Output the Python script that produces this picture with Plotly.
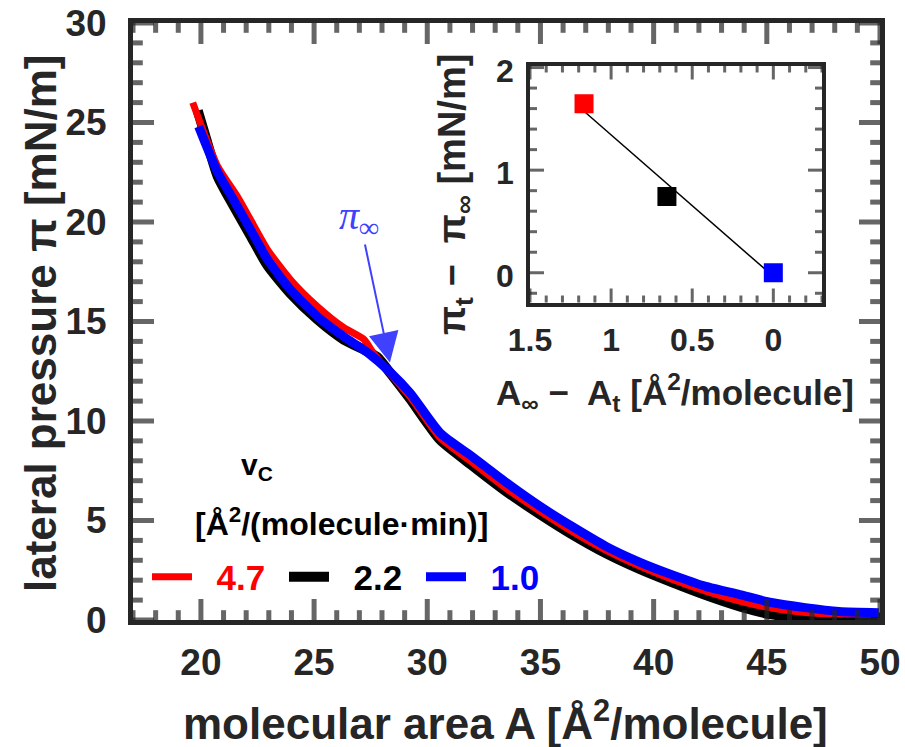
import plotly.graph_objects as go

# ---------------- data ----------------
red_A = [19.64, 20.13, 20.74, 21.6, 22.2, 22.95, 23.96, 25.15, 26.3, 27.2, 27.6, 28.2,
         29.25, 30.57, 32.0, 33.5, 35.0, 36.4, 37.9, 39.4, 40.8, 42.3, 43.8, 45.2, 46.7, 48.2, 49.6]
red_pi = [26.0, 24.5, 22.8, 21.3, 20.1, 18.6, 17.1, 15.75, 14.7, 14.1, 13.45, 12.6,
          11.2, 9.15, 7.9, 6.6, 5.45, 4.45, 3.5, 2.7, 2.05, 1.45, 0.95, 0.6, 0.38, 0.3, 0.3]

black_A = [19.86, 20.2, 20.74, 21.45, 22.2, 22.95, 23.96, 25.15, 26.3, 27.35, 27.8, 28.37,
           29.25, 30.57, 32.0, 33.5, 35.0, 36.4, 37.9, 39.4, 40.8, 42.3, 43.8, 45.2, 46.7, 48.2, 50.0]
black_pi = [25.6, 24.3, 22.3, 20.8, 19.3, 17.8, 16.4, 15.1, 14.1, 13.5, 13.2, 12.4,
            11.1, 9.05, 7.75, 6.45, 5.3, 4.3, 3.35, 2.55, 1.9, 1.25, 0.68, 0.28, 0.15, 0.12, 0.12]

blue_A = [19.9, 20.74, 21.45, 22.2, 22.95, 23.96, 25.15, 26.3, 27.35, 28.37, 29.25, 30.57,
          32.0, 33.5, 35.0, 36.4, 37.9, 39.4, 40.8, 42.3, 43.8, 45.2, 46.7, 48.2, 49.95]
blue_pi = [24.8, 22.5, 21.1, 19.6, 18.1, 16.6, 15.25, 14.25, 13.45, 12.45, 11.4, 9.4,
           8.2, 6.9, 5.7, 4.7, 3.7, 2.9, 2.28, 1.69, 1.28, 0.88, 0.62, 0.43, 0.37]

speed_labels = ["4.7", "2.2", "1.0"]
series_colors = ["#ff0000", "#000000", "#0000ff"]

# inset data
inset_dA = [1.167, 0.656, 0.0]
inset_dpi = [1.646, 0.744, 0.0]
fit_dA = [1.167, 0.0]
fit_dpi = [1.574, -0.036]

# axis ranges, tick positions and labels
main_x_range = [17, 50]
main_y_range = [0, 30]
inset_x_range = [1.5, -0.3]
inset_y_range = [-0.29, 2.02]
main_x_major = [20, 25, 30, 35, 40, 45, 50]
main_x_major_text = ["20", "25", "30", "35", "40", "45", "50"]
main_x_minor = list(range(17, 51))
main_y_major = [0, 5, 10, 15, 20, 25, 30]
main_y_major_text = ["0", "5", "10", "15", "20", "25", "30"]
main_y_minor = list(range(0, 31))
inset_x_major = [1.5, 1.0, 0.5, 0.0]
inset_x_major_text = ["1.5", "1", "0.5", "0"]
inset_x_minor = [round(-0.3 + 0.1 * k, 1) for k in range(19)]
inset_y_major = [0, 1, 2]
inset_y_major_text = ["0", "1", "2"]
inset_y_minor = [-0.2, 0.0, 0.2, 0.4, 0.6, 0.8, 1.0, 1.2, 1.4, 1.6, 1.8, 2.0]

# ---------------- figure ----------------
FONT = "Liberation Sans"
TXT = "#262626"
W, H = 905, 747
ML, MR, MT, MB = 133, 25, 23, 127
PW, PH = W - ML - MR, H - MT - MB


def px_x(p):
    return (p - ML) / PW


def px_y(p):
    return (H - MB - p) / PH


fig = go.Figure()

order = [1, 0, 2]  # draw black first, then red, then blue
curves = [(red_A, red_pi, 7), (black_A, black_pi, 10), (blue_A, blue_pi, 9)]
for i in order:
    A, P, w = curves[i]
    fig.add_trace(go.Scatter(
        x=A, y=P, mode="lines",
        line=dict(color=series_colors[i], width=w, shape="spline", smoothing=0.6),
        name=f"&nbsp;&nbsp;<span style='color:{series_colors[i]}'>{speed_labels[i]}</span>",
        legendrank=i + 1, xaxis="x", yaxis="y", hoverinfo="skip"))

fig.add_trace(go.Scatter(
    x=fit_dA, y=fit_dpi, mode="lines", line=dict(color="black", width=1.5),
    showlegend=False, xaxis="x2", yaxis="y2", hoverinfo="skip"))
fig.add_trace(go.Scatter(
    x=inset_dA, y=inset_dpi, mode="markers",
    marker=dict(symbol="square", size=19, color=series_colors, line=dict(width=0)),
    showlegend=False, xaxis="x2", yaxis="y2", hoverinfo="skip"))


# inward tick marks on all four sides (line markers centred on the frame, outer half clipped)
def add_ticks(vals, major, along, other_range, long_len, short_len, width, xa, ya):
    xs, ys, sizes = [], [], []
    for v in vals:
        for edge in other_range:
            if along == "x":
                xs.append(v); ys.append(edge)
            else:
                xs.append(edge); ys.append(v)
            sizes.append(2 * (long_len if any(abs(v - m) < 1e-9 for m in major) else short_len))
    fig.add_trace(go.Scatter(
        x=xs, y=ys, mode="markers", cliponaxis=True, showlegend=False, hoverinfo="skip",
        marker=dict(symbol="line-ns" if along == "x" else "line-ew", size=sizes,
                    color=TXT, line=dict(color=TXT, width=width)),
        xaxis=xa, yaxis=ya))


add_ticks(main_x_minor, main_x_major, "x", main_y_range, 15, 7, 5, "x", "y")
add_ticks(main_y_minor, main_y_major, "y", main_x_range, 15, 7, 5, "x", "y")
add_ticks(inset_x_minor, inset_x_major, "x", inset_y_range, 10, 5, 3, "x2", "y2")
add_ticks(inset_y_minor, inset_y_major, "y", inset_x_range, 10, 5, 3, "x2", "y2")

tickfont_main = dict(family=FONT, size=37, color=TXT, weight="bold")
tickfont_inset = dict(family=FONT, size=32, color=TXT, weight="bold")


def base_axis(rng, lw, vals, text, font, **kw):
    return dict(showgrid=False, zeroline=False, showline=True, linecolor=TXT, linewidth=lw,
                ticks="", mirror=True, tickmode="array", tickvals=vals, ticktext=text,
                range=rng, tickfont=font, **kw)


fig.update_layout(
    template="none",
    width=W, height=H,
    margin=dict(l=ML, r=MR, t=MT, b=MB, pad=0),
    paper_bgcolor="white", plot_bgcolor="white",
    font=dict(family=FONT, color=TXT),
    xaxis=base_axis(main_x_range, 5, main_x_major, main_x_major_text, tickfont_main,
                    ticklabelstandoff=6, domain=[0, 1], anchor="y"),
    yaxis=base_axis(main_y_range, 5, main_y_major, main_y_major_text, tickfont_main,
                    ticklabelstandoff=14, domain=[0, 1], anchor="x"),
    xaxis2=base_axis(inset_x_range, 4, inset_x_major, inset_x_major_text, tickfont_inset,
                     ticklabelstandoff=6, domain=[px_x(530), px_x(822)], anchor="y2"),
    yaxis2=base_axis(inset_y_range, 4, inset_y_major, inset_y_major_text, tickfont_inset,
                     showticklabels=False,
                     domain=[px_y(302.5), px_y(65.5)], anchor="x2"),
    legend=dict(orientation="h", x=px_x(147), y=px_y(577), xanchor="left", yanchor="middle",
                font=dict(family=FONT, size=35, weight="bold"), bgcolor="rgba(0,0,0,0)",
                borderwidth=0, itemwidth=40, entrywidth=82, entrywidthmode="pixels",
                traceorder="normal"),
    showlegend=True,
)

ann = []
# inset y tick labels (placed closer to the frame than plotly's default)
for v, t in zip(inset_y_major, inset_y_major_text):
    ann.append(dict(text=t, xref="paper", yref="y2", x=px_x(516), y=v, xanchor="right",
                    yanchor="middle", yshift=-3, showarrow=False, font=tickfont_inset))
ann.append(dict(text="molecular area A [Å<sup>2</sup>/molecule]", xref="paper", yref="paper",
                x=px_x(505), y=px_y(720), xanchor="center", yanchor="middle", showarrow=False,
                font=dict(family=FONT, size=44, color=TXT, weight="bold")))
ann.append(dict(text="lateral pressure π [mN/m]", xref="paper", yref="paper", textangle=-90,
                x=px_x(40), y=px_y(324), xanchor="center", yanchor="middle", showarrow=False,
                font=dict(family=FONT, size=44, color=TXT, weight="bold")))
ann.append(dict(text="A<sub>∞</sub> −  A<sub>t</sub> [Å<sup>2</sup>/molecule]", xref="paper", yref="paper",
                x=px_x(675), y=px_y(393), xanchor="center", yanchor="middle", showarrow=False,
                font=dict(family=FONT, size=35, color=TXT, weight="bold")))
ann.append(dict(text="π<sub>t</sub> −  π<sub>∞</sub> [mN/m]", xref="paper", yref="paper", textangle=-90,
                x=px_x(455), y=px_y(195), xanchor="center", yanchor="middle", showarrow=False,
                font=dict(family=FONT, size=38, color=TXT, weight="bold")))
ann.append(dict(text="v<sub>C</sub>", xref="paper", yref="paper",
                x=px_x(257), y=px_y(466), xanchor="center", yanchor="middle", showarrow=False,
                font=dict(family=FONT, size=30, color="black", weight="bold")))
ann.append(dict(text="[Å<sup>2</sup>/(molecule·min)]", xref="paper", yref="paper",
                x=px_x(341), y=px_y(522), xanchor="center", yanchor="middle", showarrow=False,
                font=dict(family=FONT, size=32, color="black", weight="bold")))
ann.append(dict(text="π<sub>∞</sub>", xref="x", yref="y", axref="x", ayref="y",
                x=28.35, y=12.94, ax=27.0, ay=20.2, showarrow=True,
                arrowhead=2, arrowsize=3, arrowwidth=2, arrowcolor="#4040ff",
                font=dict(family="Liberation Serif", size=40, color="#4040ff", style="italic")))
fig.update_layout(annotations=ann)

fig.write_html("out.html")
